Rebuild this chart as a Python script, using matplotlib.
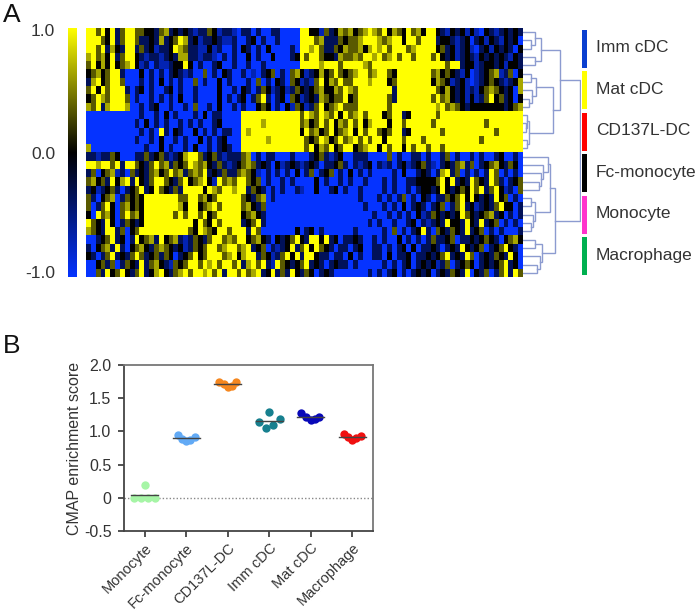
import numpy as np
import matplotlib
matplotlib.use("Agg")
import matplotlib.pyplot as plt
from matplotlib.colors import LinearSegmentedColormap

plt.rcParams['font.family'] = ['Liberation Sans', 'DejaVu Sans']

W, H = 700, 615

# heatmap read by eye, one string per row, Y = +1 ... B = -1
levels = {'Y': 1.0, 'y': 0.65, 'o': 0.35, 'k': 0.0, 'n': -0.35, 'b': -0.7, 'B': -1.0}
heat_rows = [
    "YYoYkYnoYY ookknoynkn knbnnokbnn bBnnBnBBnn BBBBYYkkbo nkyoykoyYy oYkyokYoyk YYknbknkbk bBknbnknkn knknoknyok",
    "YYYokYnoYY onnknynkoY ynkbnnknbb nBBnkBnBBn BBBBYYYoyn nnokooyYYY yoyYYkYYoY YYnkknbnkB nkbknbknkB nkYoYYYkok",
    "YYoYnyknYY nonkbnnkYy onnbbkbnBB nBknBnBkBB BBnBYYyYon nokyooykyY yYoYYYoyYY YYkonkbnkb BnkbknknBk nkokoYYYok",
    "yYoykYnoYY knbnnbnkny ynnbnnbBnB nBBkBnBBkB BBnkYoYYok knyooyoYYy YoyYoYYoYY YoYknkbnkn bknknknbkn knoYYokoYk",
    "oYkykYkoyY kbnBnbbnkk YkBnBBnkBB nBBnBBnBBB BBBBYYYYyY YYoYYYYyoY YYYYYYYYYY YYYYoYYnkk bnkknkbkkn koYoYYYYYk",
    "koykoYYnBB BkBnBnBnkn bnBBoBnBkn BBnBbBnkoB nBoykbnkyk oYokoyYYoy YYokYYYYYY YoykoknbkB bnkoybnoBk nkonkykoko",
    "nyYkoYYoBB BnBnBkBnBn BBoBnBBkBn BBBnBoBnBk nBokbnboYk yoYooYYYyY YYkoYYYYYY YkyokbnkbB bnkoknbnky nbnknnokoy",
    "oYkYoYYYnB nkBnBBnkBn BBnBBBBkBB nBknBnokbn kbnoknkoyk kyoYyoYYYY YYYnYYYYYY YYokyknkbn bkoyoknkBy kbBnkoknok",
    "koYyoYYYoB nBBnBnBnBk BBnBBBBkBn BnkBnoYnBn kBokbnknyo kooYkoYYYY YYonYYYYYY YoYoyknkbk bnoYkonkBk nBnokoknoy",
    "yoYnyYYYyB BnBnkBBnBB nBoBBnBkBB nBnBBkokBn BkbokbnoYk oyYoooYYYY YYoYYYYYYY YYyYoyoknk kkkkkknkoy okoyokkoky",
    "BBBBBBBBBB BnBBnBkBnB BBnBkBnnBB BBYYYYYYYY YYYYoYyoYy oYkYoyYoYY YkoYYnkYYY YYoYYYYYYY YYYYYYYYYY",
    "BBBBBBBBBB nBkBnBnBBn BnBnBBnkBB BBYYYYyYYY YYYYoykoYo YkyoYoYkyY YYkYYoYYYY YoYYYYYYYY YYoYYYYYYY",
    "BBBBBBBBBB BnBnBYnBkn BBkBnBnBnn BBYyYYYYYY YYYYkYoyko YkoyYkYoYY okoYYnkYYY YYYoYYYYYY YYYYoYYYYY",
    "BBBBBBBBBB nBBnBkBBnB nBBkBnBnkB BBYYYYYyYY YYYYYokoYy koYoyYoYoY YkYYYoYYYo YYYYYYYYYY YoYYYYYYYY",
    "yBBBBBBBBB BBnBBkBnBB nBkBBnBnkn BBYYYYYYYY YYYYYoYkyo YkoYYkoyYY kYoYYkYoYY oYYoYYYYYY YYYYYYYYYY",
    "nnbnnokBBB nnonkonbnk yYYonkonbn nnoyBnBnnB BBnBBBnkon bnkBBnnnBB BBoBnBBnnB nBBnoBnBBn BnBBnkBBnB",
    "YYyYYoYnYY oknoYoynok oYyoyknonb nkoyonknBk bnknbnknBn nkonBnbnkB nbnBnkbnko nbBnknoyno BnkoyknokB",
    "noBkoybnBo nknoykoYoy noyoYnknon noyokbBnBn BnBkBnoBnk oBnBkBnBnB BBBnBkBBnk nBnyYnoBnB nBnYoBnBnB",
    "oykonYkyYn YknoYYokno YkoyYkbYoy oYYokoBnBB nBnBBBBkBn BBnBnBBnBB BnBnBBnnkk kkoYkYnknY oknYonBnko",
    "nkbnkonBnk oYnkYoknon YYYYkYyoYY yYYnoknBnB nBBnbBBkBB nkBnBBnBBB BnBnBBnBnk knkYknkokY oYnoYkbnBo",
    "onBkoyBnok okYYYYYYYo oYYoykoYYY YYoknoyBnB BBBBBBBBBB BBBBBBnBBB nBnBnoBnBk nBnnokoYkY knknYkoBnB",
    "oBnoYkBoyk okYYYYYYYy kYYkoyYoYY YYoyknoBBB BBBBBBBBBB BBBBBBBnBB BnBnBkBnkn BnkoBnoYnk bnknoYkkBn",
    "kBYoykBoYo ykYYYYYYoY oYYoYkoYYY YYkoyknBBB BBBBBBBBBB BBBBBBBBBn BBnBnBnBkb noknknkYok nkoynkBnBn",
    "YoknYkBnok nkYYYYYYYY YYkYokYoYY YYnkoYnBBB BBBBBBBBBB BBBBBBBBnB nBBnBBnkBn bnknYkknYk nYnkoBnBnB",
    "yoknYYnoBk oYYYYYYYYY YokYyokYYo YYYnYoBBBB BBBkBnkBnB BBBBBnBBBB BnBoBnBnkY nBoknoknYn koBnBnBBBn",
    "BBnkoYnkBn YkoynYkoyn bnoknoYYoy oYYkoyknBk nkoYknYYkY nkBnnknBBn BnBBkBnBnB nonnkoBnnk nkoknBkoyk nBnknBoknB",
    "nBkoynYnBk oyknoyoknk bnokoYYoyY YoyYnkoBnb nkYnoYkYok nBnnBnkBBn nBnBnkBkBn nknBnknYkn koBnkoYknB okBBnBknBn",
    "knBnoYnkno YonkonokBn koYkoYYYoy YkyYYnokbn oYkYnYYknn BnnBkBnBBn nBkBnnkBnn knkoYnknYo BnknoknYkB nkBnBYYnkY",
    "BBkonoBnok nYnoyknbok oYYoYyYoYY oYnyYoYnbY oknkoYnknB nknnBnBBBB BnBnBnkBnk nkbnoBnkok BnknkoYnkB nkoBnYokoY",
    "BBonYkoYkn oYnkyYknoy YoYYyYoYnY YoYoyYnkYn onYknokBnk nBBBBBBBnB nBnkBnBnkn kBnknoknYB knoBnoYnYo YnBYYnkoYo",
]

# dendrogram: [height, left, right], leaves are row numbers
dendro_tree = [57,
    [37,
        [18, [12, 0, [8, 1, 2]], [12, 3, 4]],
        [30,
            [13, [8, 5, 6], [9, 7, [6, 8, 9]]],
            [6, [4, 10, [3, 11, 12]], [4, 13, 14]]]],
    [32,
        [27,
            [25, 15, [20, 16, [18, 17, [16, 18, 19]]]],
            [12, [8, 20, 21], [10, 22, [8, 23, 24]]]],
        [19, [12, 25, 26], [17, 27, [14, 28, 29]]]]]

groups = ["Imm cDC", "Mat cDC", "CD137L-DC", "Fc-monocyte", "Monocyte", "Macrophage"]
group_colors = ["#0a3fd0", "#ffff00", "#ff0000", "#000000", "#ff33cc", "#00b050"]
cbar_ticks = [1.0, 0.0, -1.0]

cats = ["Monocyte", "Fc-monocyte", "CD137L-DC", "Imm cDC", "Mat cDC", "Macrophage"]
cat_colors = ["#a6f5a6", "#62aaf5", "#f5871f", "#17808f", "#0808b8", "#f01010"]
scores = [
    [0.0, 0.0, 0.20, 0.0, 0.0],
    [0.95, 0.89, 0.86, 0.87, 0.92],
    [1.75, 1.71, 1.67, 1.69, 1.75],
    [1.14, 1.05, 1.29, 1.10, 1.19],
    [1.28, 1.215, 1.17, 1.18, 1.215],
    [0.96, 0.91, 0.87, 0.895, 0.935],
]
offsets = [
    [-0.25, -0.085, 0.0, 0.085, 0.25],
    [-0.21, -0.10, 0.0, 0.10, 0.20],
    [-0.21, -0.10, 0.0, 0.10, 0.21],
    [-0.235, -0.07, 0.0, 0.095, 0.26],
    [-0.23, -0.12, 0.0, 0.10, 0.21],
    [-0.21, -0.10, 0.0, 0.10, 0.21],
]
means = [0.04, 0.90, 1.71, 1.16, 1.22, 0.92]

def px_axes(x0, y0, x1, y1):
    return fig.add_axes([x0/W, 1-y1/H, (x1-x0)/W, (y1-y0)/H])

fig = plt.figure(figsize=(W/100, H/100), dpi=100)
cmap = LinearSegmentedColormap.from_list("by", ["#0533ff", "#000000", "#ffff00"])

# heatmap
n_col = 90
heat = np.array([[levels[c] for c in r.replace(" ", "").ljust(n_col, r[-1])[:n_col]] for r in heat_rows])
ax = px_axes(86, 28, 523, 277)
ax.imshow(heat, cmap=cmap, vmin=-1, vmax=1, aspect='auto', interpolation='nearest')
ax.axis('off')

# colour bar
cax = px_axes(68, 28, 77, 277)
cax.imshow(np.linspace(1, -1, 256).reshape(-1, 1), cmap=cmap, vmin=-1, vmax=1, aspect='auto',
           extent=[0, 1, -1, 1])
cax.axis('off')
for t, yp in zip(cbar_ticks, [31, 154, 274]):
    fig.text(55/W, 1-yp/H, "%.1f" % t, ha='right', va='center', fontsize=12.5, color='#333333')

# dendrogram
dax = px_axes(523, 28, 581, 277)
dax.set_xlim(0, 58)
dax.set_ylim(len(heat_rows)-0.5, -0.5)
dax.axis('off')

def draw_node(node):
    if not isinstance(node, list):
        return node, 0
    h, a, b = node
    ya, ha = draw_node(a)
    yb, hb = draw_node(b)
    dax.plot([ha, h, h, hb], [ya, ya, yb, yb], color='#8c9bd0', lw=1, solid_joinstyle='miter')
    return (ya+yb)/2, h

draw_node(dendro_tree)

# group bars and names
bax = px_axes(582, 28, 700, 277)
bax.set_xlim(0, 118)
bax.set_ylim(len(heat_rows), 0)
bax.axis('off')
for i, (g, c) in enumerate(zip(groups, group_colors)):
    bax.bar(2.3, 4.6, width=4.4, bottom=5*i+0.2, color=c)
    bax.text(14, 5*i+2.4, g, ha='left', va='center', fontsize=12.5, color='#333333')

# panel B
ax2 = px_axes(124, 365, 373, 531)
ax2.axhline(0, color='#888888', lw=1, ls=(0, (1, 1.5)), zorder=1)
for i in range(len(cats)):
    ax2.scatter(i+np.array(offsets[i]), scores[i], s=36, color=cat_colors[i], lw=0, zorder=2)
    ax2.plot([i-0.33, i+0.33], [means[i], means[i]], color='#444444', lw=1, zorder=3)
ax2.set_xlim(-0.5, 5.5)
ax2.set_ylim(-0.5, 2.0)
ax2.set_yticks([-0.5, 0, 0.5, 1.0, 1.5, 2.0])
ax2.set_yticklabels(["-0.5", "0", "0.5", "1.0", "1.5", "2.0"], fontsize=11.5, color='#333333')
ax2.set_xticks(range(len(cats)))
ax2.set_xticklabels(cats, rotation=45, ha='right', rotation_mode='anchor', fontsize=10.5, color='#333333')
ax2.set_ylabel("CMAP enrichment score", fontsize=11.5, color='#333333', labelpad=1)
ax2.tick_params(width=1.2, length=4, color='#333333')
ax2.tick_params(axis='y', pad=5)
ax2.tick_params(axis='x', pad=3)
for s in ax2.spines.values():
    s.set_linewidth(1.3)
    s.set_color('#444444')
ax2.spines['top'].set_color('#777777')
ax2.spines['right'].set_color('#777777')

fig.text(3/W, 1-15/H, "A", fontsize=19, va='center', color='#111111')
fig.text(3/W, 1-346/H, "B", fontsize=19, va='center', color='#111111')

fig.savefig("out.png", dpi=100)
